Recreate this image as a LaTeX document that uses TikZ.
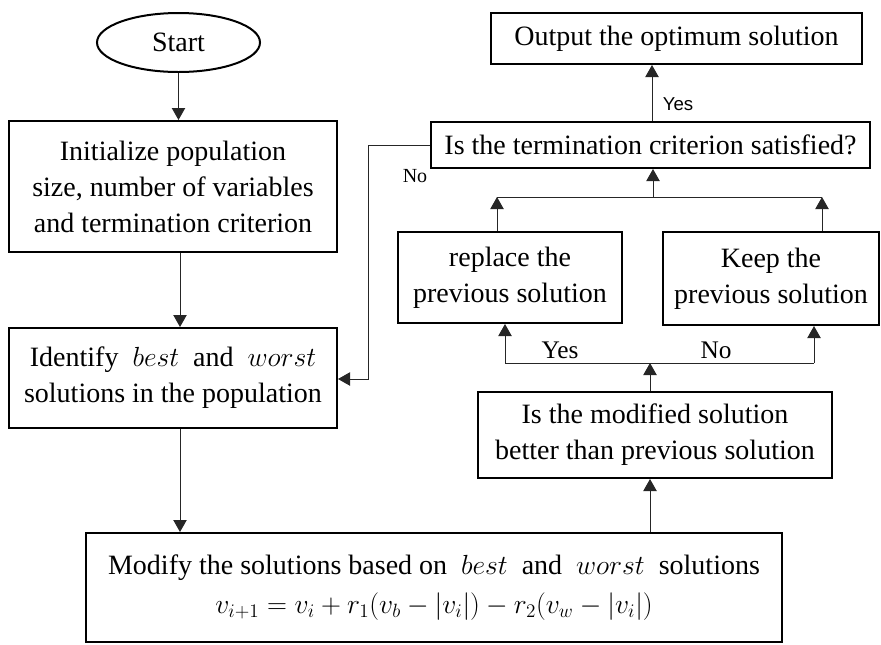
\documentclass[tikz,border=0pt]{standalone}
\usepackage{fontspec}
\setmainfont{Liberation Serif}
\newfontfamily\labelsans{Liberation Sans}
\usetikzlibrary{arrows.meta,shapes.geometric}
% update formula set a little larger than the body text
\newcommand{\formula}[1]{{\fontsize{22}{27}\selectfont$#1$}}
\begin{document}
\begin{tikzpicture}[x=0.75pt,y=-0.75pt,
  every node/.style={font=\fontsize{21}{27}\selectfont},
  box/.style={draw,line width=1.5pt,rectangle,inner sep=0pt,align=center},
  oval/.style={draw,line width=1.5pt,ellipse,inner sep=0pt},
  link/.style={line width=0.75pt,draw=black!85},
  arr/.style={link,-{Triangle[length=9pt,width=10pt]}},
  tag/.style={inner sep=0pt,font=\fontsize{19}{22}\selectfont},
  smalltag/.style={inner sep=0pt,font=\fontsize{15}{18}\selectfont}]
\useasboundingbox (0,0) rectangle (881,644);

% process steps
\node[oval,minimum width=122.25pt,minimum height=44.25pt] (start) at (178.5,42.5) {Start};
\node[box,minimum width=246pt,minimum height=98.25pt] (init) at (173,186.5)
  {Initialize population\\size, number of variables\\and termination criterion};
\node[box,minimum width=246pt,minimum height=75pt] (ident) at (173,378)
  {Identify\ \ $best$\ \ and\ \ $worst$\\solutions in the population};
\node[box,minimum width=522pt,minimum height=81.75pt] (modify) at (434,587.5)
  {Modify the solutions based on\ \ $best$\ \ and\ \ $worst$\ \ solutions\\[2pt]
   \formula{v_{i+1}=v_i+r_1(v_b-|v_i|)-r_2(v_w-|v_i|)}};
\node[box,minimum width=265.5pt,minimum height=64.5pt] (better) at (655,435)
  {Is the modified solution\\better than previous solution};
\node[box,minimum width=168pt,minimum height=68.25pt] (replace) at (510,277.5)
  {replace the\\previous solution};
\node[box,minimum width=162pt,minimum height=69.75pt] (keep) at (771,278.5)
  {Keep the\\previous solution};
\node[box,minimum width=329.25pt,minimum height=34.5pt] (term) at (650.5,145)
  {Is the termination criterion satisfied?};
\node[box,minimum width=278.25pt,minimum height=38.25pt] (output) at (676.5,38.5)
  {Output the optimum solution};

% routing points
\coordinate (leftx) at (180,0);
\coordinate (split) at (650,363);
\coordinate (yesx) at (505,363);
\coordinate (nox) at (814,363);
\coordinate (joinl) at (497,197);
\coordinate (joinr) at (822,197);
\coordinate (joinc) at (653,197);
\coordinate (loopx) at (368,379);

% main column
\draw[arr] (start.south) -- (start.south |- init.north);
\draw[arr] (init.south -| leftx) -- (ident.north -| leftx);
\draw[arr] (ident.south -| leftx) -- (modify.north -| leftx);
\draw[arr] (modify.north -| split) -- (better.south -| split);

% decision on the modified solution
\draw[arr] (better.north -| split) -- (split);
\draw[link] (yesx) -- (nox);
\draw[arr] (yesx) -- (replace.south -| yesx);
\draw[arr] (nox) -- (keep.south -| nox);

% merge towards the termination test
\draw[arr] (replace.north -| joinl) -- (joinl);
\draw[arr] (keep.north -| joinr) -- (joinr);
\draw[link] (joinl) -- (joinr);
\draw[arr] (joinc) -- (term.south -| joinc);

% termination test
\draw[arr] (term.north -| 652,0) -- (output.south -| 652,0);
\draw[arr] (term.west) -| (loopx) -- (ident.east |- loopx);

% branch labels
\node[tag] (yes1) at (560,350) {Yes};
\node[tag] (no1) at (716,350) {No};
\node[smalltag,font=\labelsans\fontsize{14}{17}\selectfont] (yes2) at (678,104) {Yes};
\node[smalltag] (no2) at (415,176) {No};
\end{tikzpicture}
\end{document}
